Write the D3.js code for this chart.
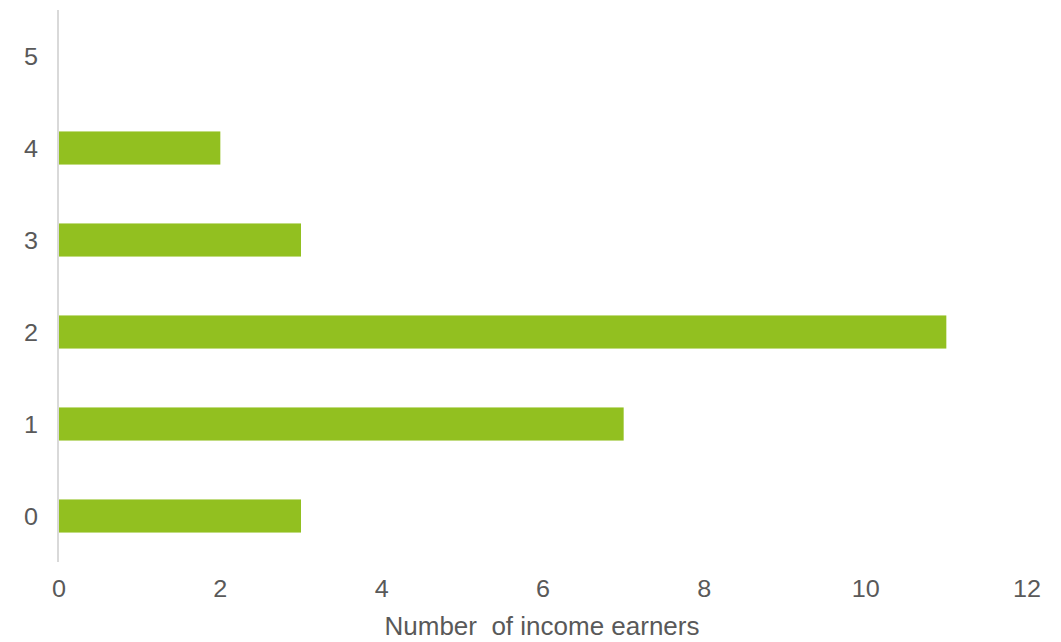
<!DOCTYPE html>
<html>
<head>
<meta charset="utf-8">
<script src="https://cdn.jsdelivr.net/npm/d3@7"></script>
<style>
  html, body { margin: 0; padding: 0; background: #fff; }
  svg { display: block; }
  text { font-family: "Liberation Sans", Arial, sans-serif; fill: #595959; }
</style>
</head>
<body>
<svg id="chart" width="1061" height="642"></svg>
<script>
// Households by number of income earners
const categories = ["0", "1", "2", "3", "4", "5"];
const counts = [3, 7, 11, 3, 2, 0];
const xTicks = [0, 2, 4, 6, 8, 10, 12];
const axisTitle = "Number  of income earners";

const svg = d3.select("#chart");
const plot = { left: 59, right: 1027, top: 10, bottom: 562 };

const x = d3.scaleLinear().domain([0, 12]).range([plot.left, plot.right]);
const y = d3.scaleBand()
  .domain(categories)
  .range([plot.bottom, plot.top])
  .paddingInner(0.64)
  .paddingOuter(0.32);

const data = categories.map((c, i) => ({ cat: c, value: counts[i] }));

// bars
svg.append("g")
  .selectAll("rect")
  .data(data.filter(d => d.value > 0))
  .join("rect")
  .attr("x", x(0))
  .attr("y", d => y(d.cat))
  .attr("width", d => x(d.value) - x(0))
  .attr("height", y.bandwidth())
  .attr("fill", "#92c020");

// vertical category axis line
svg.append("line")
  .attr("x1", x(0) - 1).attr("x2", x(0) - 1)
  .attr("y1", plot.top).attr("y2", plot.bottom)
  .attr("stroke", "#d9d9d9")
  .attr("stroke-width", 2);

// category labels
svg.append("g")
  .selectAll("text")
  .data(categories)
  .join("text")
  .attr("transform", d => `translate(31,${y(d) + y.bandwidth() / 2 + 8.5}) scale(1.05,1)`)
  .attr("text-anchor", "middle")
  .attr("font-size", 24)
  .text(d => d);

// value tick labels
svg.append("g")
  .selectAll("text")
  .data(xTicks)
  .join("text")
  .attr("transform", d => `translate(${x(d)},597) scale(1.05,1)`)
  .attr("text-anchor", "middle")
  .attr("font-size", 24)
  .text(d => d);

// axis title
svg.append("text")
  .attr("transform", "translate(542,635) scale(1.04,1)")
  .attr("text-anchor", "middle")
  .attr("font-size", 25)
  .style("white-space", "pre")
  .text(axisTitle);
</script>
</body>
</html>
